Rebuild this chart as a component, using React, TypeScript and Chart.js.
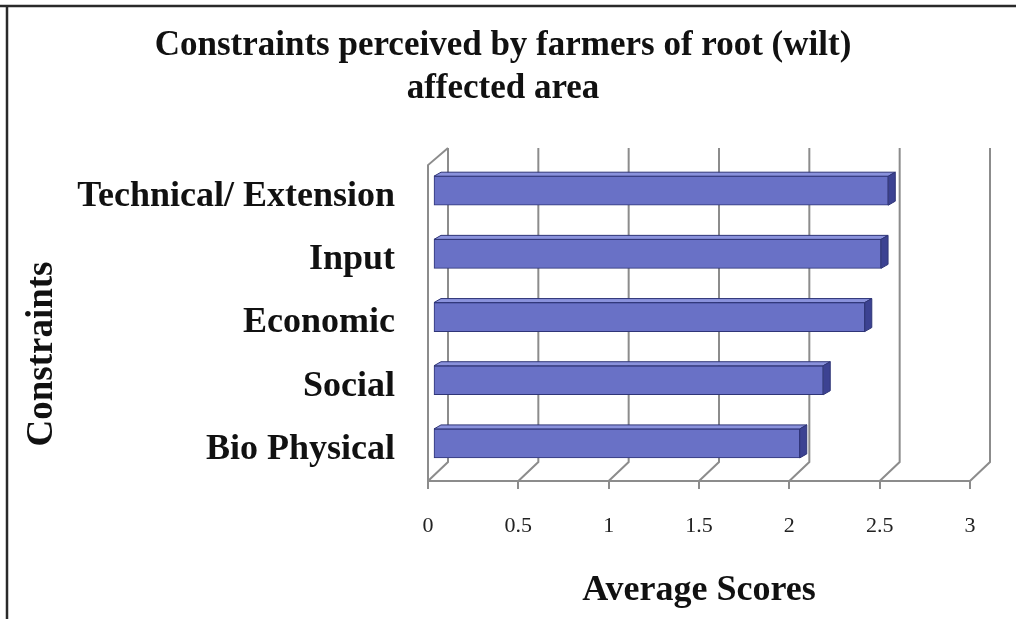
import React, { useEffect, useRef } from 'react';
import { Chart, registerables } from 'chart.js';

Chart.register(...registerables);

// ---- data ----
const categories = ['Technical/ Extension', 'Input', 'Economic', 'Social', 'Bio Physical'];
const averageScores = [2.52, 2.48, 2.39, 2.16, 2.03];
const xTickValues = [0, 0.5, 1, 1.5, 2, 2.5, 3];
const xTickLabels = ['0', '0.5', '1', '1.5', '2', '2.5', '3'];
const titleLines = ['Constraints perceived by farmers of root (wilt)', 'affected area'];
const xAxisTitle = 'Average Scores';
const yAxisTitle = 'Constraints';

// ---- style ----
const FONT = "'Liberation Serif', 'Times New Roman', serif";
const GRID = '#8c8c8c';
const BAR_FRONT = '#6971c6';
const BAR_TOP = '#8a92dc';
const BAR_SIDE = '#3c4292';
const BAR_EDGE = '#2f3577';
const DEPTH_X = 20;
const DEPTH_Y = -19;
const BAR_SHIFT_X = 5;
const BAR_SHIFT_Y = -6;
const BAR_DEPTH_X = 7;
const BAR_DEPTH_Y = -4;

const threeD = {
  id: 'threeD',
  beforeDraw(chart: any) {
    const { ctx, width, height } = chart;
    ctx.save();
    ctx.fillStyle = '#ffffff';
    ctx.fillRect(0, 0, width, height);
    ctx.strokeStyle = '#2a2a2a';
    ctx.lineWidth = 2.5;
    ctx.beginPath();
    ctx.moveTo(0, 6);
    ctx.lineTo(width, 6);
    ctx.moveTo(7, 6);
    ctx.lineTo(7, height);
    ctx.stroke();
    ctx.restore();
  },
  beforeDatasetsDraw(chart: any) {
    const { ctx, chartArea, scales } = chart;
    const x = scales.x;
    const { top, bottom, left } = chartArea;
    ctx.save();
    ctx.strokeStyle = GRID;
    ctx.lineWidth = 2;
    ctx.beginPath();
    x.ticks.forEach((t: any) => {
      const px = x.getPixelForValue(t.value);
      ctx.moveTo(px, bottom);
      ctx.lineTo(px + DEPTH_X, bottom + DEPTH_Y);
      ctx.lineTo(px + DEPTH_X, top + DEPTH_Y + 2);
    });
    ctx.moveTo(left, bottom);
    ctx.lineTo(left, top);
    ctx.lineTo(left + DEPTH_X, top + DEPTH_Y + 2);
    ctx.stroke();
    ctx.restore();
    ctx.save();
    ctx.translate(BAR_SHIFT_X, BAR_SHIFT_Y);
  },
  afterDatasetsDraw(chart: any) {
    const { ctx } = chart;
    const meta = chart.getDatasetMeta(0);
    meta.data.forEach((el: any) => {
      const { x: xe, y, base, height } = el.getProps(['x', 'y', 'base', 'height'], true);
      const t = y - height / 2;
      const b = y + height / 2;
      ctx.lineWidth = 1;
      ctx.strokeStyle = BAR_EDGE;
      // top face
      ctx.beginPath();
      ctx.moveTo(base, t);
      ctx.lineTo(xe, t);
      ctx.lineTo(xe + BAR_DEPTH_X, t + BAR_DEPTH_Y);
      ctx.lineTo(base + BAR_DEPTH_X, t + BAR_DEPTH_Y);
      ctx.closePath();
      ctx.fillStyle = BAR_TOP;
      ctx.fill();
      ctx.stroke();
      // side face
      ctx.beginPath();
      ctx.moveTo(xe, t);
      ctx.lineTo(xe + BAR_DEPTH_X, t + BAR_DEPTH_Y);
      ctx.lineTo(xe + BAR_DEPTH_X, b + BAR_DEPTH_Y);
      ctx.lineTo(xe, b);
      ctx.closePath();
      ctx.fillStyle = BAR_SIDE;
      ctx.fill();
      ctx.stroke();
    });
    ctx.restore();
  },
  afterDraw(chart: any) {
    const { ctx, chartArea, scales } = chart;
    ctx.save();
    ctx.translate(scales.y.left + 42, (chartArea.top + chartArea.bottom) / 2 + 31);
    ctx.rotate(-Math.PI / 2);
    ctx.font = `bold 37px ${FONT}`;
    ctx.fillStyle = '#111111';
    ctx.textAlign = 'center';
    ctx.textBaseline = 'middle';
    ctx.fillText(yAxisTitle, 0, 0);
    ctx.restore();
  },
};

export default function App() {
  const ref = useRef<HTMLCanvasElement>(null);
  useEffect(() => {
    const chart = new Chart(ref.current as HTMLCanvasElement, {
      type: 'bar',
      data: {
        labels: categories,
        datasets: [
          {
            data: averageScores,
            backgroundColor: BAR_FRONT,
            borderColor: BAR_EDGE,
            borderWidth: 1,
            borderSkipped: false,
            barThickness: 29,
            xAxisID: 'x',
            yAxisID: 'y',
          },
        ],
      },
      plugins: [threeD],
      options: {
        indexAxis: 'y',
        animation: false,
        responsive: false,
        devicePixelRatio: 1,
        layout: { padding: { left: 0, right: 10, top: 0, bottom: 0 } },
        plugins: {
          legend: { display: false },
          tooltip: { enabled: false },
          title: {
            display: true,
            text: titleLines,
            color: '#111111',
            font: { family: FONT, size: 35, weight: 'bold', lineHeight: 1.23 },
            padding: { top: 24, bottom: 55 },
          },
        },
        scales: {
          x: {
            type: 'linear',
            position: 'bottom',
            min: 0,
            max: 3,
            afterBuildTicks: (s: any) => {
              s.ticks = xTickValues.map((v) => ({ value: v }));
            },
            afterFit: (s: any) => {
              s.height = 138;
            },
            grid: {
              drawOnChartArea: false,
              drawTicks: true,
              tickLength: 8,
              color: GRID,
              lineWidth: 2,
            },
            border: { display: true, color: GRID, width: 2 },
            ticks: {
              color: '#222222',
              padding: 24,
              maxRotation: 0,
              font: { family: FONT, size: 22 },
              callback: (_v: any, i: number) => xTickLabels[i],
            },
            title: {
              display: true,
              text: xAxisTitle,
              color: '#111111',
              font: { family: FONT, size: 36, weight: 'bold', lineHeight: 1.2 },
              padding: { top: 0, bottom: 7 },
            },
          },
          y: {
            type: 'category',
            position: 'left',
            afterFit: (s: any) => {
              s.width = 428;
            },
            grid: { display: false, drawTicks: false },
            border: { display: false },
            ticks: {
              color: '#111111',
              padding: 33,
              font: { family: FONT, size: 36, weight: 'bold' },
            },
          },
          yRight: {
            type: 'linear',
            position: 'right',
            display: true,
            afterFit: (s: any) => {
              s.width = 36;
            },
            grid: { display: false, drawTicks: false },
            border: { display: false },
            ticks: { display: false },
          },
        },
      },
    } as any);
    return () => chart.destroy();
  }, []);
  return (
    <div style={{ position: 'fixed', left: 0, top: 0, width: 1016, height: 619, background: '#ffffff' }}>
      <canvas ref={ref} width={1016} height={619} style={{ display: 'block', width: 1016, height: 619 }} />
    </div>
  );
}
